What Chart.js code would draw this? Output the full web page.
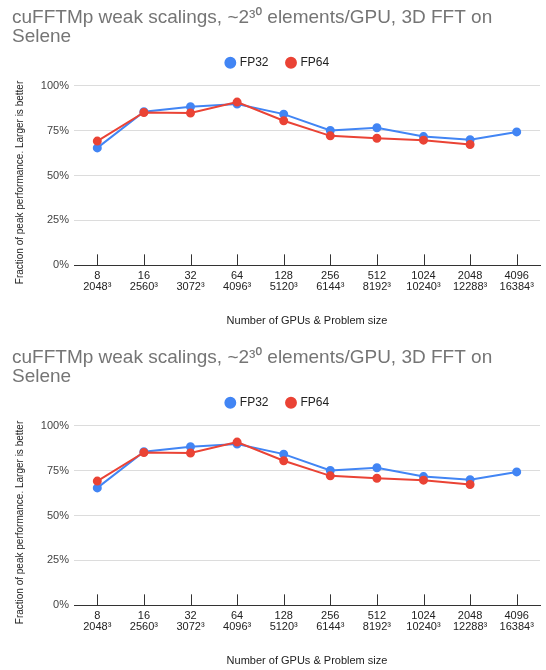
<!DOCTYPE html>
<html>
<head>
<meta charset="utf-8">
<script src="https://cdn.jsdelivr.net/npm/chart.js@4.4.1/dist/chart.umd.min.js"></script>
<style>
  html, body { margin: 0; padding: 0; background: #fff; }
  .box { position: absolute; left: 0; width: 546px; height: 330px; }
  #b1 { top: 0; }
  #b2 { top: 340px; }
</style>
</head>
<body>
<div class="box" id="b1"><canvas id="c1"></canvas></div>
<div class="box" id="b2"><canvas id="c2"></canvas></div>
<script>
const titleLines = ['cuFFTMp weak scalings, ~2\u00B3\u2070 elements/GPU, 3D FFT on', 'Selene'];
const gpuCounts = ['8', '16', '32', '64', '128', '256', '512', '1024', '2048', '4096'];
const problemSizes = ['2048\u00B3', '2560\u00B3', '3072\u00B3', '4096\u00B3', '5120\u00B3', '6144\u00B3', '8192\u00B3', '10240\u00B3', '12288\u00B3', '16384\u00B3'];
const fp32 = [65.4, 85.5, 88.3, 89.8, 84.2, 75.1, 76.6, 71.7, 70.0, 74.3];
const fp64 = [69.2, 85.1, 84.8, 90.9, 80.5, 72.1, 70.8, 69.7, 67.3, null];
const yTicks = [0, 25, 50, 75, 100];
const yTitle = 'Fraction of peak performance. Larger is better';
const xTitle = 'Number of GPUs & Problem size';

const FONT = "'Liberation Sans', 'Noto Sans', Arial, sans-serif";
const BLUE = '#4285F4';
const RED = '#EA4335';

const tickMarks = {
  id: 'tickMarks',
  afterInit(chart) {
    const lg = chart.legend;
    if (lg && !lg._patched) {
      const orig = lg.fit.bind(lg);
      lg.fit = function () { orig(); this.height += 7; };
      lg._patched = true;
    }
  },
  beforeDatasetsDraw(chart) {
    const x = chart.scales.x, ctx = chart.ctx, b = chart.chartArea.bottom;
    ctx.save();
    ctx.strokeStyle = '#333';
    ctx.lineWidth = 1;
    x.ticks.forEach((t, i) => {
      const px = Math.round(x.getPixelForTick(i)) + 0.5;
      ctx.beginPath();
      ctx.moveTo(px, b);
      ctx.lineTo(px, b - 11);
      ctx.stroke();
    });
    ctx.restore();
  }
};

function makeChart(id) {
  const labels = gpuCounts.map((g, i) => [g, problemSizes[i]]);
  return new Chart(document.getElementById(id), {
    type: 'line',
    data: {
      labels,
      datasets: [
        { label: 'FP32', data: fp32, borderColor: BLUE, backgroundColor: BLUE, pointBackgroundColor: BLUE,
          pointBorderColor: BLUE, borderWidth: 2, pointRadius: 3.5, order: 1, tension: 0 },
        { label: 'FP64', data: fp64, borderColor: RED, backgroundColor: RED, pointBackgroundColor: RED,
          pointBorderColor: RED, borderWidth: 2, pointRadius: 3.5, order: 0, tension: 0 }
      ]
    },
    options: {
      responsive: true,
      maintainAspectRatio: false,
      animation: false,
      layout: { padding: { left: 12, right: 2, top: 0, bottom: 2 } },
      plugins: {
        title: {
          display: true, text: titleLines, align: 'start', color: '#757575',
          font: { family: FONT, size: 19, weight: 'normal', lineHeight: 1.02 },
          padding: { top: 8, bottom: -9 }
        },
        legend: {
          display: true, position: 'top', align: 'center',
          labels: {
            usePointStyle: true, pointStyle: 'circle', boxWidth: 7, boxHeight: 7,
            padding: 19, color: '#222', font: { family: FONT, size: 12 },
            sort: (a, b) => a.datasetIndex - b.datasetIndex
          }
        },
        tooltip: { enabled: false }
      },
      scales: {
        x: {
          type: 'category', offset: true,
          grid: { display: false, drawTicks: false },
          border: { display: true, color: '#333', width: 1 },
          ticks: { color: '#222', font: { family: FONT, size: 11, lineHeight: 0.93 }, padding: 6, maxRotation: 0, autoSkip: false },
          title: { display: true, text: xTitle, color: '#222', font: { family: FONT, size: 11 }, padding: { top: 17, bottom: 0 } }
        },
        y: {
          min: 0, max: 100,
          afterBuildTicks: s => { s.ticks = yTicks.map(v => ({ value: v })); },
          grid: { color: '#dcdcdc', drawTicks: false },
          border: { display: false },
          ticks: { color: '#444', font: { family: FONT, size: 11 }, padding: 5, callback: v => v + '%' },
          title: { display: true, text: yTitle + '\u00A0\u00A0\u00A0\u00A0\u00A0', color: '#222', font: { family: FONT, size: 10 }, padding: { top: 2, bottom: 6 } },
          afterFit: s => { s.width = 62; }
        }
      }
    },
    plugins: [tickMarks]
  });
}
makeChart('c1');
makeChart('c2');
</script>
</body>
</html>
